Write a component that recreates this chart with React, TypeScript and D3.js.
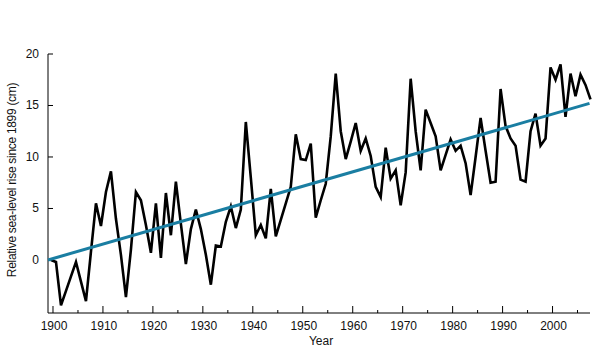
import React, { useEffect } from "react";
import * as d3 from "d3";

// annual relative sea-level, cm, starting 1899
const startYear = 1899;
const seaLevel = [
  0, -0.2, -4.4, -3.0, -1.6, -0.2, -2.1, -4.0, 0.8, 5.5,
  3.3, 6.6, 8.6, 4.0, 0.5, -3.6, 1.0, 6.6, 5.8, 3.4,
  0.7, 5.5, 0.2, 6.5, 2.4, 7.6, 3.5, -0.4, 3.0, 4.9,
  3.0, 0.5, -2.4, 1.4, 1.3, 3.7, 5.2, 3.1, 4.9, 13.4,
  8.0, 2.4, 3.4, 2.1, 6.9, 2.3, 3.9, 5.5, 7.1, 12.2,
  9.8, 9.7, 11.3, 4.1, 5.8, 7.4, 12.0, 18.1, 12.5, 9.8,
  11.5, 13.3, 10.6, 11.8, 10.1, 7.1, 6.1, 10.9, 7.9, 8.7,
  5.3, 8.5, 17.6, 12.5, 8.7, 14.6, 13.3, 12.0, 8.7, 10.2,
  11.7, 10.6, 11.1, 9.4, 6.3, 10.0, 13.8, 10.6, 7.5, 7.6,
  16.6, 13.0, 11.8, 11.1, 7.8, 7.6, 12.5, 14.2, 11.1, 11.8,
  18.7, 17.5, 19.0, 13.9, 18.1, 15.9, 18.0, 17.0, 15.6,
];

// linear trend end points [year, cm]
const trendYears = [1899, 2007.4];
const trendValues = [0, 15.2];

const majorYears = [1900, 1910, 1920, 1930, 1940, 1950, 1960, 1970, 1980, 1990, 2000];
const minorYears = [1905, 1915, 1925, 1935, 1945, 1955, 1965, 1975, 1985, 1995, 2005];
const yTicks = [0, 5, 10, 15, 20];

export default function App() {
  useEffect(() => {
    draw();
  }, []);

  let draw = () => {
    d3.select("#sea_chart").select("svg").remove();

    let width = 598;
    let height = 358;
    let font = "'Liberation Sans', Arial, sans-serif";

    let svg = d3
      .select("#sea_chart")
      .append("svg")
      .attr("width", width)
      .attr("height", height)
      .style("position", "absolute")
      .style("left", 0)
      .style("top", 0)
      .style("background", "#fff");

    let x = d3.scaleLinear().domain([1899, 2007.5]).range([48, 590]);
    let y = d3.scaleLinear().domain([-5.15, 20]).range([313, 54]);

    // x axis
    svg
      .append("line")
      .attr("x1", x(1899))
      .attr("x2", x(2007.5))
      .attr("y1", y(-5.15))
      .attr("y2", y(-5.15))
      .attr("stroke", "#000");

    svg
      .selectAll(".xmajor")
      .data(majorYears)
      .enter()
      .append("line")
      .attr("x1", (d) => x(d))
      .attr("x2", (d) => x(d))
      .attr("y1", 313)
      .attr("y2", 306)
      .attr("stroke", "#000");

    svg
      .selectAll(".xminor")
      .data(minorYears)
      .enter()
      .append("line")
      .attr("x1", (d) => x(d))
      .attr("x2", (d) => x(d))
      .attr("y1", 313)
      .attr("y2", 310)
      .attr("stroke", "#000");

    svg
      .selectAll(".xlabel")
      .data(majorYears)
      .enter()
      .append("text")
      .attr("x", (d) => x(d) + 1)
      .attr("y", 329.5)
      .attr("text-anchor", "middle")
      .attr("font-family", font)
      .attr("font-size", 12)
      .attr("fill", "#111")
      .text((d) => d);

    // y axis
    svg
      .append("line")
      .attr("x1", 48)
      .attr("x2", 48)
      .attr("y1", y(20))
      .attr("y2", y(-5.15))
      .attr("stroke", "#000");

    svg
      .selectAll(".ytick")
      .data(yTicks)
      .enter()
      .append("line")
      .attr("x1", 48)
      .attr("x2", 53)
      .attr("y1", (d) => y(d))
      .attr("y2", (d) => y(d))
      .attr("stroke", "#000");

    svg
      .selectAll(".ylabel")
      .data(yTicks)
      .enter()
      .append("text")
      .attr("x", 39)
      .attr("y", (d) => y(d) + 4)
      .attr("text-anchor", "end")
      .attr("font-family", font)
      .attr("font-size", 12)
      .attr("fill", "#111")
      .text((d) => d);

    svg
      .append("text")
      .attr("transform", "translate(16, 180) rotate(-90)")
      .attr("text-anchor", "middle")
      .attr("font-family", font)
      .attr("font-size", 12)
      .attr("letter-spacing", -0.3)
      .attr("fill", "#111")
      .text("Relative sea-level rise since 1899 (cm)");

    svg
      .append("text")
      .attr("x", 321)
      .attr("y", 345)
      .attr("text-anchor", "middle")
      .attr("font-family", font)
      .attr("font-size", 12)
      .attr("fill", "#111")
      .text("Year");

    // data line
    let data = seaLevel.map((v, i) => ({ year: startYear + i, value: v }));
    let line = d3
      .line<{ year: number; value: number }>()
      .x((d) => x(d.year + 0.6))
      .y((d) => y(d.value));

    svg
      .append("path")
      .datum(data)
      .attr("d", line)
      .attr("fill", "none")
      .attr("stroke", "#000")
      .attr("stroke-width", 2.6);

    // trend line
    let trend = trendYears.map((t, i) => ({ year: t, value: trendValues[i] }));
    svg
      .append("path")
      .datum(trend)
      .attr(
        "d",
        d3
          .line<{ year: number; value: number }>()
          .x((d) => x(d.year))
          .y((d) => y(d.value))
      )
      .attr("fill", "none")
      .attr("stroke", "#1a7ea2")
      .attr("stroke-width", 3);
  };

  return <div id="sea_chart"></div>;
}
